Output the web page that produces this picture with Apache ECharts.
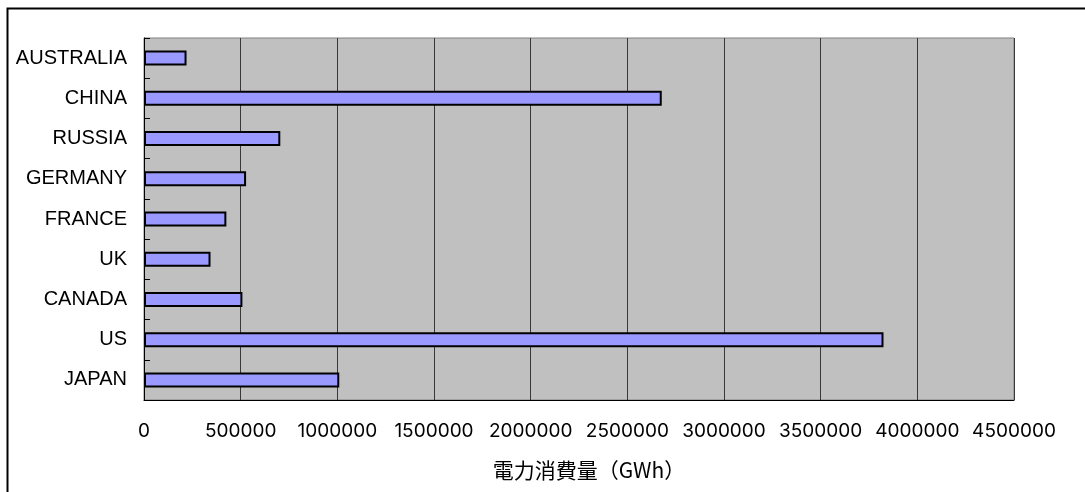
<!DOCTYPE html>
<html>
<head>
<meta charset="utf-8">
<title>電力消費量</title>
<script src="https://cdn.jsdelivr.net/npm/echarts@6/dist/echarts.min.js"></script>
<style>
  html, body { margin: 0; padding: 0; background: #ffffff; }
  #chart { width: 1085px; height: 492px; }
</style>
</head>
<body>
<div id="chart"></div>
<script>
// Countries, bottom to top as the category axis runs
const countries = ['JAPAN', 'US', 'CANADA', 'UK', 'FRANCE', 'GERMANY', 'RUSSIA', 'CHINA', 'AUSTRALIA'];
// Electricity consumption, GWh
const consumption = [1010000, 3825000, 509000, 344000, 426000, 528000, 705000, 2678000, 220000];
// Value axis range and step
const axisMin = 0;
const axisMax = 4500000;
const axisStep = 500000;
const axisTitle = '電力消費量（GWh）';

const chart = echarts.init(document.getElementById('chart'), null, { renderer: 'canvas' });

chart.setOption({
  backgroundColor: '#ffffff',
  animation: false,
  graphic: [{
    type: 'rect',
    shape: { x: 7.5, y: 8.5, width: 2000, height: 2000 },
    style: { fill: 'none', stroke: '#000000', lineWidth: 2 },
    silent: true,
    z: 100
  }],
  grid: {
    left: 144,
    top: 38,
    width: 870,
    height: 362,
    show: true,
    backgroundColor: '#c0c0c0',
    borderColor: '#808080',
    borderWidth: 1
  },
  xAxis: {
    type: 'value',
    min: axisMin,
    max: axisMax,
    interval: axisStep,
    name: axisTitle,
    nameLocation: 'middle',
    nameGap: 60,
    nameTextStyle: {
      fontFamily: '"Noto Sans CJK JP", sans-serif',
      fontSize: 21,
      color: '#000000',
      padding: [0, 0, 0, 20]
    },
    axisLine: { show: true, lineStyle: { color: '#000000', width: 1 } },
    axisTick: { show: false },
    axisLabel: {
      margin: 22,
      fontFamily: 'Inter, sans-serif',
      fontSize: 19,
      color: '#000000',
      formatter: (v) => String(v)
    },
    splitLine: { show: true, lineStyle: { color: '#383838', width: 1 } }
  },
  yAxis: {
    type: 'category',
    data: countries,
    axisLine: { show: true, lineStyle: { color: '#000000', width: 1 } },
    axisTick: { show: true, inside: true, length: 6, lineStyle: { color: '#000000' } },
    axisLabel: {
      margin: 17,
      fontFamily: '"Liberation Sans", Arial, sans-serif',
      fontSize: 20,
      color: '#000000'
    },
    splitLine: { show: false }
  },
  series: [{
    type: 'bar',
    data: consumption,
    barWidth: 15,
    itemStyle: {
      color: '#9999ff',
      borderColor: '#000000',
      borderWidth: 2
    }
  }]
});
</script>
</body>
</html>
